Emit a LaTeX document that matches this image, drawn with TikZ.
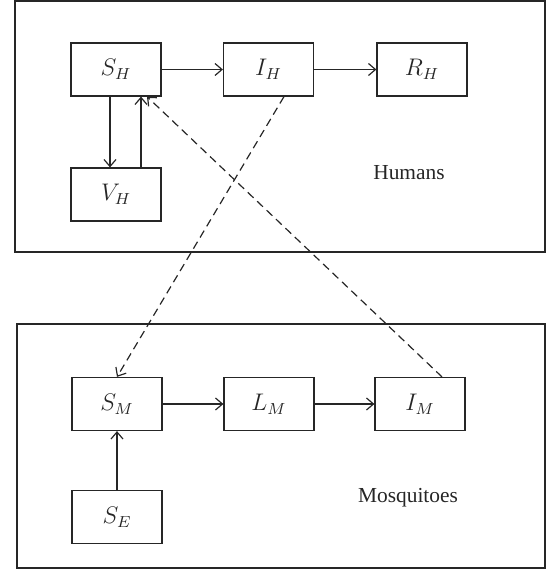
\documentclass[tikz,border=0pt]{standalone}
\usepackage{fontspec}
\setmainfont{Liberation Serif}
\usetikzlibrary{positioning,arrows.meta}

\begin{document}
\begin{tikzpicture}[x=0.5pt, y=-0.5pt, line width=0.6pt, color=black!85,
		>={Straight Barb[length=3.5pt, width=6pt]},
		box/.style={draw, minimum width=45pt, minimum height=26.5pt, font=\fontsize{11.5}{13}\selectfont},
		link/.style={dashed, dash pattern=on 4pt off 2.5pt}]
			%%%%% START %%%%%
			\useasboundingbox (0, 0) rectangle (548, 569);
			
			% humans
			\draw (15, 1) rectangle (545, 252);
			\node[box] (SH) at (116, 69.5) {$S_H$};
			\node[box] (IH) at (268.5, 69.5) {$I_H$};
			\node[box] (RH) at (422, 69.5) {$R_H$};
			\node[box] (VH) at (116, 194.5) {$V_H$};
			\node[font=\fontsize{10.7}{13}\selectfont] (hum) at (409, 173) {Humans};
			
			% mosquitoes
			\draw (17, 324) rectangle (545, 568);
			\node[box] (SM) at (117, 404) {$S_M$};
			\node[box] (LM) at (269, 404) {$L_M$};
			\node[box] (IM) at (420, 404) {$I_M$};
			\node[box] (SE) at (117, 517) {$S_E$};
			\node[font=\fontsize{10.7}{13}\selectfont] (mos) at (408, 498) {Mosquitoes};
			
			\draw[->] (SH) -- (IH);
			\draw[->] (IH) -- (RH);
			\draw[->] ([xshift=-3pt]SH.south) -- ([xshift=-3pt]VH.north);
			\draw[->] ([xshift=12.5pt]VH.north) -- ([xshift=12.5pt]SH.south);
			
			\draw[->] (SM) -- (LM);
			\draw[->] (LM) -- (IM);
			\draw[->] (SE) -- (SM);
			
			\draw[->, link] ([xshift=7.75pt]IH.south) -- (SM.north);
			\draw[->, link] ([xshift=11pt]IM.north) -- ([xshift=15.5pt]SH.south);
			%%%%% END %%%%%
\end{tikzpicture}
\end{document}
